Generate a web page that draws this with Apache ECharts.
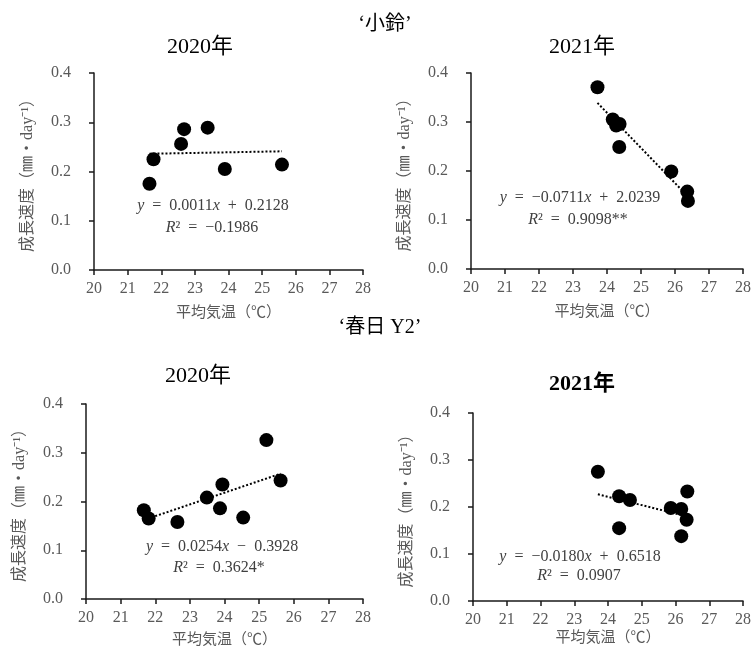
<!DOCTYPE html>
<html>
<head>
<meta charset="utf-8">
<script src="https://cdn.jsdelivr.net/npm/echarts@6/dist/echarts.min.js"></script>
<style>html,body{margin:0;padding:0;background:#fff;}#c{width:754px;height:652px;}</style>
</head>
<body>
<div id="c"></div>
<script>
// ---- data ----
const kosuzu2020X = [21.65, 21.77, 22.59, 22.68, 23.38, 23.89, 25.59];
const kosuzu2020Y = [0.175, 0.225, 0.256, 0.286, 0.289, 0.205, 0.214];
const kosuzu2020Trend = [[21.65, 0.236], [25.59, 0.241]];

const kosuzu2021X = [23.72, 24.17, 24.27, 24.37, 24.36, 25.89, 26.36, 26.38];
const kosuzu2021Y = [0.371, 0.305, 0.293, 0.296, 0.249, 0.199, 0.158, 0.139];
const kosuzu2021Trend = [[23.72, 0.339], [26.38, 0.148]];

const kasuga2020X = [21.67, 21.81, 22.64, 23.49, 23.94, 23.87, 24.54, 25.21, 25.62];
const kasuga2020Y = [0.182, 0.165, 0.158, 0.208, 0.235, 0.186, 0.167, 0.326, 0.243];
const kasuga2020Trend = [[21.67, 0.162], [25.62, 0.257]];

const kasuga2021X = [23.70, 24.33, 24.33, 24.65, 25.86, 26.17, 26.17, 26.33, 26.35];
const kasuga2021Y = [0.275, 0.223, 0.155, 0.215, 0.198, 0.196, 0.138, 0.173, 0.233];
const kasuga2021Trend = [[23.70, 0.227], [26.35, 0.180]];

const xMin = 20, xMax = 28, xStep = 1;
const yMin = 0, yMax = 0.4, yStep = 0.1;

const cultivarTitles = ['‘小鈴’', '‘春日 Y2’'];
const yearTitles = ['2020年', '2021年', '2020年', '2021年'];
const xAxisName = '平均気温（℃）';
const yAxisName = '成長速度（㎜・day⁻¹）';
const equations = [
  ['{i|y}  =  0.0011{i|x}  +  0.2128', '{i|R}²  =  −0.1986'],
  ['{i|y}  =  −0.0711{i|x}  +  2.0239', '{i|R}²  =  0.9098**'],
  ['{i|y}  =  0.0254{i|x}  −  0.3928', '{i|R}²  =  0.3624*'],
  ['{i|y}  =  −0.0180{i|x}  +  0.6518', '{i|R}²  =  0.0907']
];

const panelX = [kosuzu2020X, kosuzu2021X, kasuga2020X, kasuga2021X];
const panelY = [kosuzu2020Y, kosuzu2021Y, kasuga2020Y, kasuga2021Y];
const panelTrend = [kosuzu2020Trend, kosuzu2021Trend, kasuga2020Trend, kasuga2021Trend];

// ---- layout ----
const FONT = "'Liberation Serif', 'Noto Sans CJK JP', serif";
const grids = [
  {left: 94, right: 391, top: 73, bottom: 382},
  {left: 471, right: 6, top: 73, bottom: 383},
  {left: 86, right: 391, top: 404, bottom: 53},
  {left: 473, right: 11, top: 413, bottom: 51}
];
const eqPos = [
  [[213, 206], [212, 228]],
  [[580, 198], [578, 220]],
  [[222, 547], [219, 568]],
  [[580, 557], [579, 576]]
];
const titlePos = [[200, 47], [582, 47], [198, 376], [582, 384]];
const titleBold = ['normal', 'normal', 'normal', 'bold'];
const cultivarPos = [[385, 25], [380, 328]];
const xNameGap = [36, 36, 34, 30];

const gridArr = [], xAxes = [], yAxes = [], series = [];
for (let i = 0; i < 4; i++) {
  gridArr.push(Object.assign({containLabel: false}, grids[i]));
  xAxes.push({
    type: 'value', gridIndex: i, min: xMin, max: xMax, interval: xStep,
    name: xAxisName, nameLocation: 'middle', nameGap: xNameGap[i],
    nameTextStyle: {fontFamily: FONT, fontSize: 15, color: '#595959'},
    axisLine: {show: true, onZero: false, lineStyle: {color: '#1a1a1a', width: 1.5}},
    axisTick: {show: true, length: 5, lineStyle: {color: '#1a1a1a', width: 1.5}},
    axisLabel: {fontFamily: FONT, fontSize: 16, color: '#595959', margin: 11},
    splitLine: {show: false}
  });
  yAxes.push({
    type: 'value', gridIndex: i, min: yMin, max: yMax, interval: yStep,
    name: yAxisName, nameLocation: 'middle', nameGap: 58,
    nameTextStyle: {fontFamily: FONT, fontSize: 16, color: '#595959'},
    axisLine: {show: true, lineStyle: {color: '#1a1a1a', width: 1.5}},
    axisTick: {show: true, length: 5, lineStyle: {color: '#1a1a1a', width: 1.5}},
    axisLabel: {fontFamily: FONT, fontSize: 16, color: '#595959', margin: 23,
      formatter: v => v.toFixed(1)},
    splitLine: {show: false}
  });
  series.push({
    type: 'scatter', xAxisIndex: i, yAxisIndex: i, symbol: 'circle', symbolSize: 14,
    itemStyle: {color: '#000', opacity: 1}, z: 3,
    data: panelX[i].map((x, k) => [x, panelY[i][k]])
  });
  series.push({
    type: 'line', xAxisIndex: i, yAxisIndex: i, symbol: 'none', z: 2,
    lineStyle: {color: '#000', width: 2, type: [2, 2]},
    data: panelTrend[i]
  });
}

const graphics = [];
cultivarTitles.forEach((t, i) => graphics.push({
  type: 'text', x: cultivarPos[i][0], y: cultivarPos[i][1],
  style: {text: t, fontFamily: FONT, fontSize: 20, fill: '#000', align: 'center', verticalAlign: 'middle'}
}));
yearTitles.forEach((t, i) => graphics.push({
  type: 'text', x: titlePos[i][0], y: titlePos[i][1],
  style: {text: t, fontFamily: FONT, fontSize: 22, fontWeight: titleBold[i], fill: '#000', align: 'center', verticalAlign: 'middle'}
}));
const rich = {i: {fontStyle: 'italic', fontFamily: FONT, fontSize: 16, fill: '#404040', color: '#404040'}};
equations.forEach((eq, i) => eq.forEach((line, j) => graphics.push({
  type: 'text', x: eqPos[i][j][0], y: eqPos[i][j][1],
  style: {text: line, fontFamily: FONT, fontSize: 16, fill: '#404040', align: 'center', verticalAlign: 'middle', rich: rich}
})));

const chart = echarts.init(document.getElementById('c'), null, {renderer: 'canvas'});
chart.setOption({
  backgroundColor: '#fff',
  animation: false,
  grid: gridArr, xAxis: xAxes, yAxis: yAxes, series: series,
  graphic: graphics
});
</script>
</body>
</html>
